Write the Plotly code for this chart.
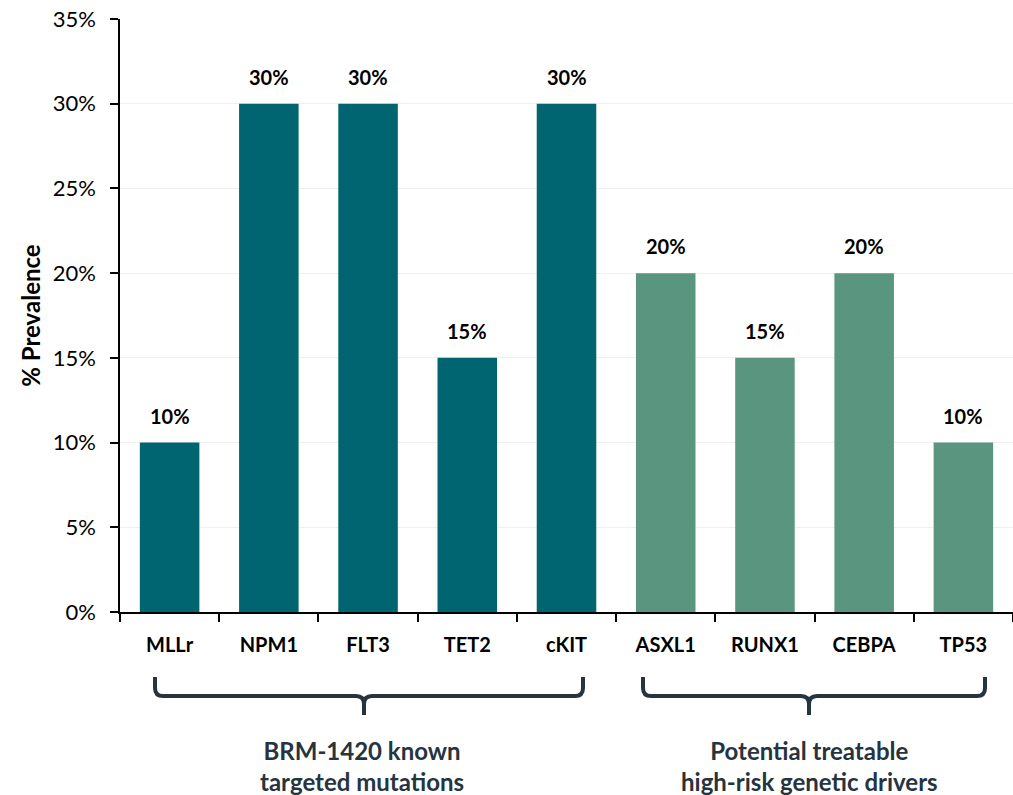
import plotly.graph_objects as go

# Mutation prevalence data
genes = ["MLLr", "NPM1", "FLT3", "TET2", "cKIT", "ASXL1", "RUNX1", "CEBPA", "TP53"]
prevalence = [10, 30, 30, 15, 30, 20, 15, 20, 10]
group = ["known", "known", "known", "known", "known", "driver", "driver", "driver", "driver"]
y_ticks = [0, 5, 10, 15, 20, 25, 30, 35]
y_tick_labels = ["0%", "5%", "10%", "15%", "20%", "25%", "30%", "35%"]
group_labels = ["BRM-1420 known<br>targeted mutations", "Potential treatable<br>high-risk genetic drivers"]

TEAL = "#006570"
SAGE = "#5a9580"
INK = "#26343f"
FONT = "Lato"

W, H = 1013, 795
ML, MR, MT, MB = 120, 0, 19, 183
PW, PH = W - ML - MR, H - MT - MB


def px(x):
    return (x - ML) / PW


def py(y):
    return (H - MB - y) / PH


colors = [TEAL if g == "known" else SAGE for g in group]

fig = go.Figure(
    go.Bar(
        x=genes,
        y=prevalence,
        marker=dict(color=colors, line=dict(width=0)),
        width=0.6,
        hoverinfo="skip",
    )
)

# Value labels floating above each bar
value_labels = [
    dict(x=g, y=v, xref="x", yref="y", text=f"{v}%", showarrow=False,
         yshift=27, yanchor="middle", xanchor="center",
         font=dict(family=FONT, size=20, color="#000000", weight="bold"))
    for g, v in zip(genes, prevalence)
]


def brace(x0, x1, xc, top, mid, tip, r=8):
    """Curly bracket path in paper coordinates from pixel positions."""
    rx, ry = r / PW, r / PH
    X0, X1, XC = px(x0), px(x1), px(xc)
    T, M, B = py(top), py(mid), py(tip)
    return (
        f"M {X0},{T} L {X0},{M + ry} Q {X0},{M} {X0 + rx},{M} "
        f"L {XC - rx},{M} Q {XC},{M} {XC},{M - ry} L {XC},{B} "
        f"M {X1},{T} L {X1},{M + ry} Q {X1},{M} {X1 - rx},{M} "
        f"L {XC + rx},{M} Q {XC},{M} {XC},{M - ry}"
    )


shapes = [
    dict(type="path", xref="paper", yref="paper",
         path=brace(155, 583, 364, 677, 696, 715),
         line=dict(color=INK, width=4)),
    dict(type="path", xref="paper", yref="paper",
         path=brace(643, 985, 809, 677, 696, 715),
         line=dict(color=INK, width=4)),
]

group_annotations = [
    dict(x=px(362), y=py(766), xref="paper", yref="paper", text=group_labels[0],
         showarrow=False, font=dict(family=FONT, size=24, color=INK, weight="bold"),
         xanchor="center", yanchor="middle"),
    dict(x=px(809), y=py(766), xref="paper", yref="paper", text=group_labels[1],
         showarrow=False, font=dict(family=FONT, size=24, color=INK, weight="bold"),
         xanchor="center", yanchor="middle"),
]

fig.update_layout(
    width=W, height=H,
    margin=dict(l=ML, r=MR, t=MT, b=MB),
    paper_bgcolor="white", plot_bgcolor="white",
    showlegend=False,
    shapes=shapes,
    annotations=value_labels + group_annotations,
    font=dict(family=FONT, color="#000000"),
)

fig.update_xaxes(
    type="category",
    showline=True, linecolor="#000000", linewidth=1.5,
    ticks="outside", tickson="boundaries", ticklen=8, tickwidth=1.5, tickcolor="#000000",
    tickfont=dict(family=FONT, size=20, color="#000000", weight="bold"),
    ticklabelstandoff=14,
    showgrid=False,
)

fig.update_yaxes(
    range=[0, 35],
    tickvals=y_ticks, ticktext=y_tick_labels,
    showline=True, linecolor="#000000", linewidth=1.5,
    ticks="outside", ticklen=8, tickwidth=1.5, tickcolor="#000000",
    tickfont=dict(family=FONT, size=22, color="#000000"),
    ticklabelstandoff=10,
    showgrid=True, gridcolor="#efefef", gridwidth=1,
    zeroline=False,
    title=dict(text="% Prevalence", font=dict(family=FONT, size=24, color="#000000", weight="bold"),
               standoff=5),
)

fig.write_html("out.html")
